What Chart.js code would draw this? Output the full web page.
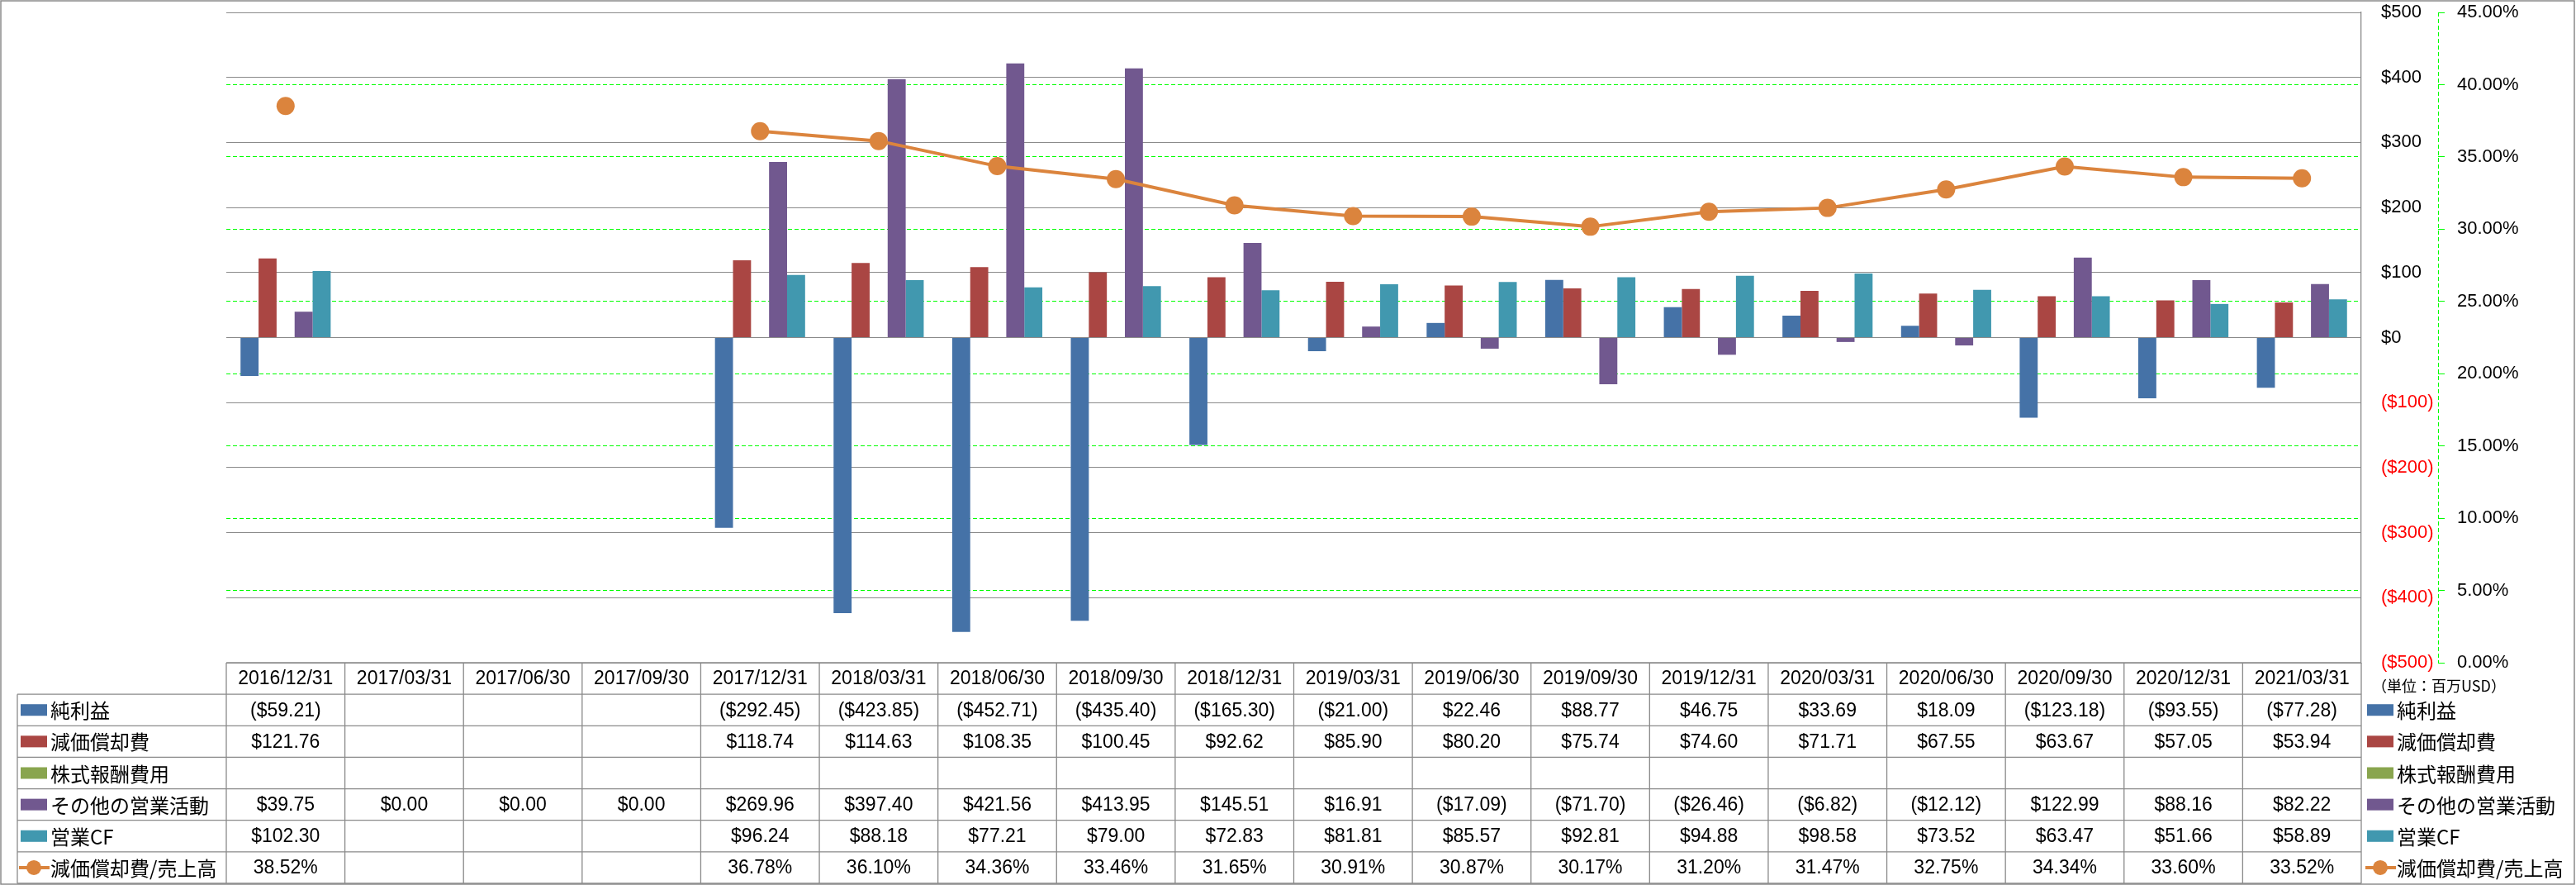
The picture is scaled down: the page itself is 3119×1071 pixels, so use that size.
<!DOCTYPE html>
<html>
<head>
<meta charset="utf-8">
<script src="https://cdn.jsdelivr.net/npm/chart.js@4.4.1/dist/chart.umd.min.js"></script>
<style>
html,body{margin:0;padding:0;background:#fff;}
canvas{display:block;}
</style>
</head>
<body>
<canvas id="c" width="3119" height="1071"></canvas>
<script>
// ---------- data ----------
const categories = ['2016/12/31','2017/03/31','2017/06/30','2017/09/30','2017/12/31','2018/03/31','2018/06/30','2018/09/30','2018/12/31','2019/03/31','2019/06/30','2019/09/30','2019/12/31','2020/03/31','2020/06/30','2020/09/30','2020/12/31','2021/03/31'];
const seriesNames = ['純利益','減価償却費','株式報酬費用','その他の営業活動','営業CF','減価償却費/売上高'];
const netIncome   = [-59.21, null, null, null, -292.45, -423.85, -452.71, -435.40, -165.30, -21.00, 22.46, 88.77, 46.75, 33.69, 18.09, -123.18, -93.55, -77.28];
const depreciation= [121.76, null, null, null, 118.74, 114.63, 108.35, 100.45, 92.62, 85.90, 80.20, 75.74, 74.60, 71.71, 67.55, 63.67, 57.05, 53.94];
const stockComp   = [null, null, null, null, null, null, null, null, null, null, null, null, null, null, null, null, null, null];
const otherOps    = [39.75, 0.00, 0.00, 0.00, 269.96, 397.40, 421.56, 413.95, 145.51, 16.91, -17.09, -71.70, -26.46, -6.82, -12.12, 122.99, 88.16, 82.22];
const operatingCF = [102.30, null, null, null, 96.24, 88.18, 77.21, 79.00, 72.83, 81.81, 85.57, 92.81, 94.88, 98.58, 73.52, 63.47, 51.66, 58.89];
const depToSales  = [38.52, null, null, null, 36.78, 36.10, 34.36, 33.46, 31.65, 30.91, 30.87, 30.17, 31.20, 31.47, 32.75, 34.34, 33.60, 33.52];
const unitLabel = '（単位：百万USD）';

const colors = ['#4572A7','#AA4643','#89A54E','#71588F','#4198AF','#DB843D'];
const GRID_GRAY = '#8a8a8a';
const GREEN = '#00ff00';
const NUM_FONT = '"Liberation Sans", Arial, sans-serif';
const JP_FONT = '"Noto Sans CJK JP", "Noto Sans", sans-serif';

function fmtMoney(v){
  if (v === null || v === undefined) return '';
  return v < 0 ? '($' + Math.abs(v).toFixed(2) + ')' : '$' + v.toFixed(2);
}
function fmtPct(v){
  if (v === null || v === undefined) return '';
  return v.toFixed(2) + '%';
}

const tableRows = [
  {name: seriesNames[0], data: netIncome, fmt: fmtMoney, color: colors[0], line:false},
  {name: seriesNames[1], data: depreciation, fmt: fmtMoney, color: colors[1], line:false},
  {name: seriesNames[2], data: stockComp, fmt: fmtMoney, color: colors[2], line:false},
  {name: seriesNames[3], data: otherOps, fmt: fmtMoney, color: colors[3], line:false},
  {name: seriesNames[4], data: operatingCF, fmt: fmtMoney, color: colors[4], line:false},
  {name: seriesNames[5], data: depToSales, fmt: fmtPct, color: colors[5], line:true}
];

function drawKey(ctx, row, x, cy){
  if (row.line){
    ctx.strokeStyle = row.color; ctx.lineWidth = 4;
    ctx.beginPath(); ctx.moveTo(x - 2, cy); ctx.lineTo(x + 35, cy); ctx.stroke();
    ctx.fillStyle = row.color;
    ctx.beginPath(); ctx.arc(x + 16, cy, 9, 0, Math.PI*2); ctx.fill();
  } else {
    ctx.fillStyle = row.color;
    ctx.fillRect(x, cy - 7, 32, 14);
  }
}

const tablePlugin = {
  id: 'dataTable',
  afterDraw(chart){
    const ctx = chart.ctx;
    const ca = chart.chartArea;
    const xs = chart.scales.x;
    const y2 = chart.scales.y2;
    const n = categories.length;
    const colW = xs.getPixelForValue(1) - xs.getPixelForValue(0);
    const top = ca.bottom;
    const bottom = chart.height - 2;
    const rowH = (bottom - top) / 7;
    const headerBottom = top + rowH;
    const tableLeft = 21;

    ctx.save();
    // dashed secondary axis line
    ctx.strokeStyle = GREEN; ctx.lineWidth = 1;
    ctx.setLineDash([5,3]);
    ctx.beginPath(); ctx.moveTo(Math.round(y2.left) + 0.5, ca.top); ctx.lineTo(Math.round(y2.left) + 0.5, ca.bottom); ctx.stroke();
    ctx.setLineDash([]);

    // table lines
    ctx.strokeStyle = GRID_GRAY; ctx.lineWidth = 1.3;
    ctx.beginPath();
    ctx.moveTo(ca.left, top); ctx.lineTo(ca.right, top);
    for (let r = 0; r <= 6; r++){
      const yy = headerBottom + r*rowH;
      ctx.moveTo(tableLeft, yy); ctx.lineTo(ca.right, yy);
    }
    ctx.moveTo(tableLeft, headerBottom); ctx.lineTo(tableLeft, bottom);
    for (let i = 0; i <= n; i++){
      const xx = (i < n ? xs.getPixelForValue(i) - colW/2 : xs.getPixelForValue(n-1) + colW/2);
      ctx.moveTo(xx, top); ctx.lineTo(xx, bottom);
    }
    ctx.stroke();

    // header text
    ctx.fillStyle = '#000';
    ctx.textAlign = 'center'; ctx.textBaseline = 'middle';
    ctx.font = '23px ' + NUM_FONT;
    for (let i = 0; i < n; i++){
      ctx.fillText(categories[i], xs.getPixelForValue(i), top + rowH/2 + 1);
    }
    // rows
    tableRows.forEach((row, r) => {
      const cy = headerBottom + r*rowH + rowH/2 + 1;
      ctx.font = '23px ' + NUM_FONT;
      ctx.fillStyle = '#000';
      ctx.textAlign = 'center';
      for (let i = 0; i < n; i++){
        const s = row.fmt(row.data[i]);
        if (s) ctx.fillText(s, xs.getPixelForValue(i), cy);
      }
      // left label
      drawKey(ctx, row, 25, cy - 1);
      ctx.fillStyle = '#000';
      ctx.textAlign = 'left';
      ctx.font = '24px ' + JP_FONT;
      ctx.fillText(row.name, 61, cy);
      // right legend
      drawKey(ctx, row, 2866, cy - 1);
      ctx.fillStyle = '#000';
      ctx.fillText(row.name, 2902, cy);
    });
    // unit label
    ctx.font = '18px ' + JP_FONT;
    ctx.textAlign = 'left';
    ctx.fillStyle = '#000';
    ctx.fillText(unitLabel, 2872, top + 28);

    // outer border
    ctx.strokeStyle = GRID_GRAY; ctx.lineWidth = 1.5;
    ctx.strokeRect(1, 1, chart.width - 3, chart.height - 2);
    ctx.restore();
  }
};

const barDs = (i, data) => ({
  type: 'bar', label: seriesNames[i], data: data,
  backgroundColor: colors[i], borderWidth: 0, yAxisID: 'y', order: 1,
  categoryPercentage: 0.76, barPercentage: 1.0
});

new Chart(document.getElementById('c'), {
  data: {
    labels: categories,
    datasets: [
      barDs(0, netIncome),
      barDs(1, depreciation),
      barDs(2, stockComp),
      barDs(3, otherOps),
      barDs(4, operatingCF),
      {
        type: 'line', label: seriesNames[5], data: depToSales, yAxisID: 'y2', order: 0,
        borderColor: colors[5], backgroundColor: colors[5], borderWidth: 4,
        pointRadius: 11, pointHoverRadius: 11, pointBorderWidth: 0,
        pointBackgroundColor: colors[5], spanGaps: false, tension: 0
      }
    ]
  },
  options: {
    responsive: false,
    animation: false,
    devicePixelRatio: 1,
    layout: { padding: { left: 274, top: 15, right: 0, bottom: 269 } },
    plugins: { legend: { display: false }, tooltip: { enabled: false }, title: { display: false } },
    scales: {
      x: { type: 'category', display: false, offset: true, grid: { display: false } },
      y: {
        position: 'right', weight: 1, min: -500, max: 500,
        afterFit(s){ s.width = 93; s.paddingTop = 10; s.paddingBottom = 10; },
        ticks: {
          stepSize: 100, padding: 24,
          font: { family: NUM_FONT, size: 22 },
          color: (c) => c.tick && c.tick.value < 0 ? '#ff0000' : '#000000',
          callback: (v) => v < 0 ? '($' + Math.abs(v) + ')' : '$' + v
        },
        grid: { color: GRID_GRAY, lineWidth: 1, drawTicks: false },
        border: { display: true, color: GRID_GRAY, width: 1.3 }
      },
      y2: {
        position: 'right', weight: 2, min: 0, max: 45,
        afterFit(s){ s.width = 167; s.paddingTop = 10; s.paddingBottom = 10; },
        ticks: {
          stepSize: 5, padding: 15,
          font: { family: NUM_FONT, size: 22 },
          color: '#000000',
          callback: (v) => Number(v).toFixed(2) + '%'
        },
        grid: {
          color: (c) => (c.tick && (c.tick.value === 0 || c.tick.value === 45)) ? 'rgba(0,0,0,0)' : GREEN,
          lineWidth: 1, drawTicks: true, tickLength: 8, tickColor: GREEN, tickWidth: 1,
          tickBorderDash: []
        },
        border: { display: false, dash: [5,3] }
      }
    }
  },
  plugins: [tablePlugin]
});
</script>
</body>
</html>
